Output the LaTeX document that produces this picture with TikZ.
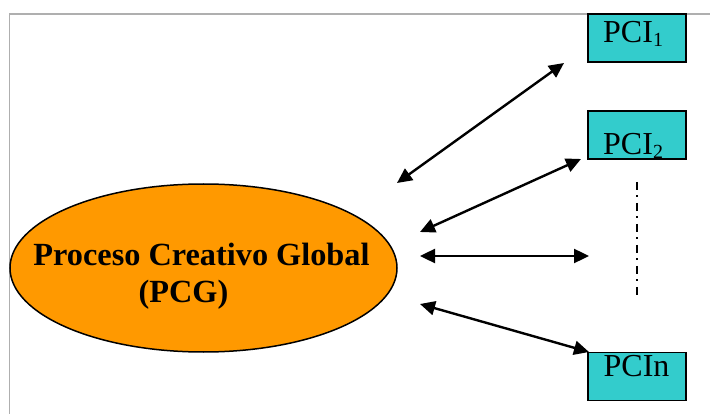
\documentclass[tikz,border=0pt]{standalone}
\usepackage{fontspec}
\setmainfont{Liberation Serif}
\usetikzlibrary{shapes.geometric,arrows.meta}
\definecolor{pcgorange}{RGB}{255,153,0}
\definecolor{pcicyan}{RGB}{51,204,204}
\definecolor{framegray}{RGB}{175,175,175}
\tikzset{
  pcibox/.style={draw=black, line width=1.5pt, fill=pcicyan, minimum width=98pt, minimum height=48pt, inner sep=0pt, outer sep=0pt},
  pcilabel/.style={anchor=base west, inner sep=0pt, font=\fontsize{32}{38}\selectfont},
  pcgtext/.style={anchor=base, inner sep=0pt, font=\fontsize{32.3}{38}\selectfont\bfseries},
  link/.style={line width=2.4pt, {Triangle[length=15pt,width=14pt]}-{Triangle[length=15pt,width=14pt]}},
}
\newcommand{\subidx}[1]{\raisebox{-4pt}{\fontsize{20}{20}\selectfont #1}}
\begin{document}
\begin{tikzpicture}[x=1pt,y=-1pt]
\useasboundingbox (0,0) rectangle (710,414);
% partial frame
\coordinate (frameTR) at (710,14);
\coordinate (frameTL) at (9.5,14);
\coordinate (frameBL) at (9.5,414);
\draw[framegray, line width=1.5pt] (frameTR) -- (frameTL) -- (frameBL);
% ellipse
\node[ellipse, draw=black, line width=1.5pt, fill=pcgorange, minimum width=387pt, minimum height=168pt, inner sep=0pt] (pcg) at (203.5,268) {};
\node[pcgtext] (pcgline1) at (201.5,266) {Proceso Creativo Global};
\node[pcgtext] (pcgline2) at (183.5,303) {(PCG)};
% boxes
\node[pcibox] (pci1) at (637,38) {};
\node[pcilabel] (pci1text) at (603,43) {PCI\subidx{1}};
\node[pcibox] (pci2) at (637,135) {};
\node[pcilabel] (pci2text) at (603,155) {PCI\subidx{2}};
\node[pcibox] (pcin) at (637,376.5) {};
\node[pcilabel] (pcintext) at (603.5,376) {PCIn};
% arrow end points
\coordinate (a1s) at (397,183);
\coordinate (a1e) at (564,63);
\coordinate (a2s) at (420,232);
\coordinate (a2e) at (581,159);
\coordinate (a3s) at (420,256);
\coordinate (a3e) at (589,256);
\coordinate (a4s) at (420,304);
\coordinate (a4e) at (589,352);
\draw[link] (a1s) -- (a1e);
\draw[link] (a2s) -- (a2e);
\draw[link] (a3s) -- (a3e);
\draw[link] (a4s) -- (a4e);
% dash-dot line
\coordinate (dtop) at (637,182);
\coordinate (dbot) at (637,300);
\draw[line width=1.5pt, dash pattern=on 8pt off 5.5pt on 1.5pt off 6pt] (dtop) -- (dbot);
\end{tikzpicture}
\end{document}
